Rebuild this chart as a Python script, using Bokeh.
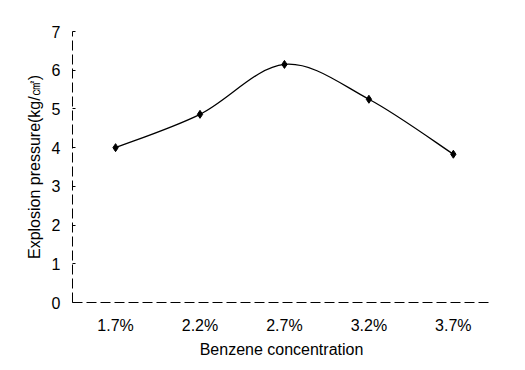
import numpy as np
from bokeh.plotting import figure
from bokeh.models import Range1d, FixedTicker
from bokeh.embed import file_html
from bokeh.resources import INLINE

# data
concentration = [1.7, 2.2, 2.7, 3.2, 3.7]
x_labels = ["1.7%", "2.2%", "2.7%", "3.2%", "3.7%"]
pressure = [4.0, 4.86, 6.15, 5.25, 3.83]
y_ticks = [0, 1, 2, 3, 4, 5, 6, 7]

FONT = "Liberation Sans"

p = figure(width=515, height=360, output_backend="svg", toolbar_location=None,
           x_range=Range1d(1.445, 3.92), y_range=Range1d(0, 7),
           min_border_left=72, min_border_right=25, min_border_top=31, min_border_bottom=58)
p.outline_line_color = None
p.xgrid.visible = False
p.ygrid.visible = False

# smoothed line (Catmull-Rom style Bezier through the data points)
x = np.array(concentration, dtype=float)
y = np.array(pressure, dtype=float)
xp = np.concatenate([[x[0]], x, [x[-1]]])
yp = np.concatenate([[y[0]], y, [y[-1]]])
x0, y0 = x[:-1], y[:-1]
x1, y1 = x[1:], y[1:]
cx0 = x0 + (xp[2:-1] - xp[:-3]) / 6.0
cy0 = y0 + (yp[2:-1] - yp[:-3]) / 6.0
cx1 = x1 - (xp[3:] - xp[1:-2]) / 6.0
cy1 = y1 - (yp[3:] - yp[1:-2]) / 6.0
p.bezier(x0=x0, y0=y0, x1=x1, y1=y1, cx0=cx0, cy0=cy0, cx1=cx1, cy1=cy1,
         line_color="black", line_width=1.3)
p.scatter(concentration, pressure, marker="diamond", size=8, color="black")

# axes
p.xaxis.ticker = FixedTicker(ticks=concentration)
p.xaxis.major_label_overrides = {c: l for c, l in zip(concentration, x_labels)}
p.yaxis.ticker = FixedTicker(ticks=y_ticks)
for ax in (p.xaxis[0], p.yaxis[0]):
    ax.axis_line_color = "black"
    ax.axis_line_width = 1
    ax.axis_line_dash = "10 4"
    ax.minor_tick_line_color = None
    ax.major_label_text_font = FONT
    ax.major_label_text_font_size = "16px"
    ax.major_label_text_color = "black"
    ax.axis_label_text_font = FONT
    ax.axis_label_text_font_size = "16px"
    ax.axis_label_text_font_style = "normal"
    ax.axis_label_text_color = "black"
p.xaxis.major_tick_line_color = None
p.xaxis.major_tick_in = 0
p.xaxis.major_tick_out = 0
p.xaxis.major_label_standoff = 14
p.xaxis.axis_label = "Benzene concentration"
p.xaxis.axis_label_standoff = 4
p.yaxis.major_tick_in = 3
p.yaxis.major_tick_out = 0
p.yaxis.major_tick_line_color = "black"
p.yaxis.major_label_standoff = 12
p.yaxis.axis_label = "Explosion pressure(kg/㎠)"
p.yaxis.axis_label_standoff = 6

open("out.html", "w").write(file_html(p, INLINE))
